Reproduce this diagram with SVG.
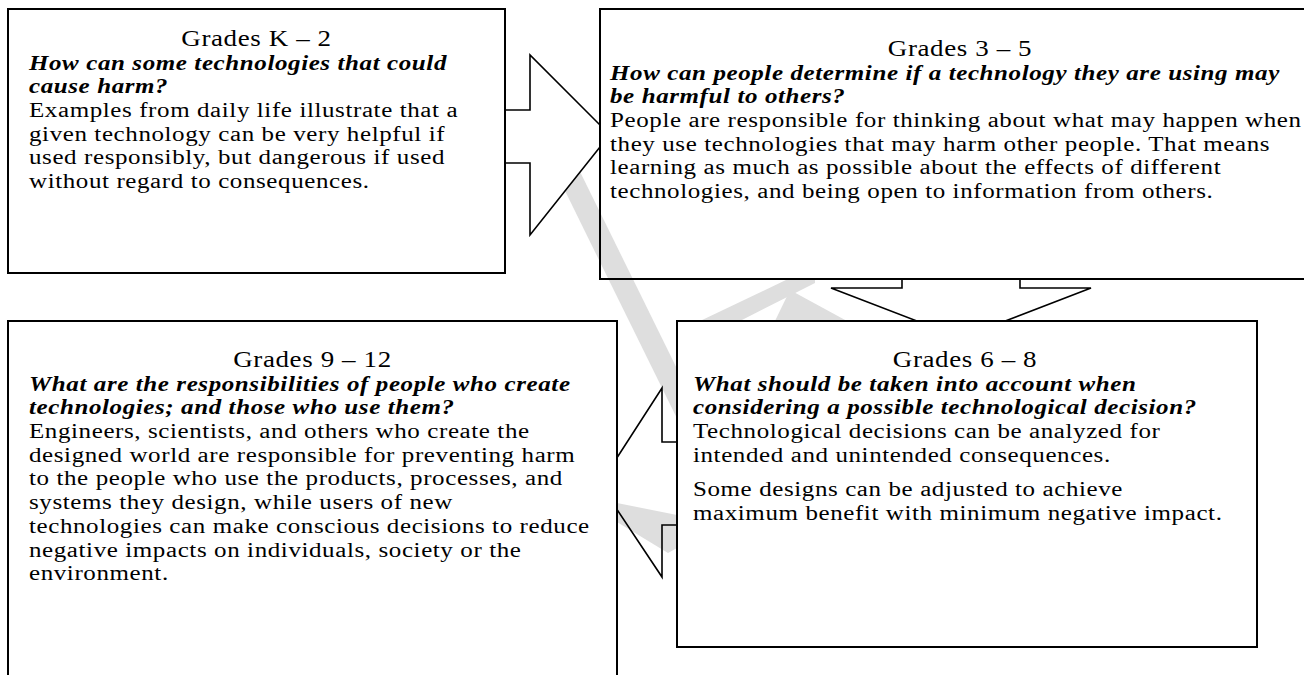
<svg xmlns="http://www.w3.org/2000/svg" width="1304" height="675" viewBox="0 0 1304 675">
<style>
.box{fill:#fff;stroke:#000;stroke-width:2}
.open{fill:none;stroke:#000;stroke-width:2}
.arr{fill:#fff;stroke:#000;stroke-width:1.6;stroke-linejoin:miter}
.arrn{fill:none;stroke:#000;stroke-width:1.6;stroke-linejoin:miter}
.wm{fill:#dedede;stroke:none}
text{font-family:"Liberation Serif","Times New Roman",serif;fill:#000;letter-spacing:0.6px}
.t{font-size:27px;text-anchor:middle}
.q{font-size:25px;font-weight:bold;font-style:italic}
.b{font-size:25px}
</style>
<rect width="1304" height="675" fill="#fff"/>
<g id="watermark">
<line x1="566" y1="168" x2="690" y2="420" stroke="#dedede" stroke-width="22"/>
<polygon class="wm" points="700,321 740,321 815,283 815,279 788,279"/>
<polygon class="wm" points="790,290 847,321 775,321"/>
<polygon class="wm" points="617,503 677,515 677,548 668,553 617,522"/>
</g>
<g id="connectors">
<polygon class="arr" points="490,110 530,110 530,55 600,125 600,147 530,235 530,163 490,163"/>
<polygon class="arr" points="902,279 902,288 831,288 961,338 1091,288 1020,288 1020,279"/>
<polygon class="arrn" points="700,442 662,442 662,388 600,484 662,577 662,525 700,525"/>
</g>
<g id="node-3-5">
<rect class="open" x="600" y="9" width="720" height="270"/>
<g transform="scale(1,0.855)">
<text class="t" x="960" y="65.50">Grades 3 – 5</text>
<text class="q" x="610" y="93.22">How can people determine if a technology they are using may</text>
<text class="q" x="610" y="120.94">be harmful to others?</text>
<text class="b" x="610" y="148.65">People are responsible for thinking about what may happen when</text>
<text class="b" x="610" y="176.37">they use technologies that may harm other people. That means</text>
<text class="b" x="610" y="204.09">learning as much as possible about the effects of different</text>
<text class="b" x="610" y="231.81">technologies, and being open to information from others.</text>
</g>
</g>
<g id="node-k-2">
<rect class="box" x="8" y="9" width="497" height="264"/>
<g transform="scale(1,0.855)">
<text class="t" x="256.5" y="53.80">Grades K – 2</text>
<text class="q" x="29" y="81.52">How can some technologies that could</text>
<text class="q" x="29" y="109.24">cause harm?</text>
<text class="b" x="29" y="136.96">Examples from daily life illustrate that a</text>
<text class="b" x="29" y="164.68">given technology can be very helpful if</text>
<text class="b" x="29" y="192.40">used responsibly, but dangerous if used</text>
<text class="b" x="29" y="220.12">without regard to consequences.</text>
</g>
</g>
<g id="node-9-12">
<rect class="box" x="8" y="321" width="609" height="370"/>
<g transform="scale(1,0.855)">
<text class="t" x="312.5" y="429.24">Grades 9 – 12</text>
<text class="q" x="29" y="456.96">What are the responsibilities of people who create</text>
<text class="q" x="29" y="484.68">technologies; and those who use them?</text>
<text class="b" x="29" y="512.40">Engineers, scientists, and others who create the</text>
<text class="b" x="29" y="540.12">designed world are responsible for preventing harm</text>
<text class="b" x="29" y="567.84">to the people who use the products, processes, and</text>
<text class="b" x="29" y="595.56">systems they design, while users of new</text>
<text class="b" x="29" y="623.27">technologies can make conscious decisions to reduce</text>
<text class="b" x="29" y="650.99">negative impacts on individuals, society or the</text>
<text class="b" x="29" y="678.71">environment.</text>
</g>
</g>
<g id="node-6-8">
<rect class="box" x="677" y="321" width="580" height="326"/>
<g transform="scale(1,0.855)">
<text class="t" x="965" y="429.24">Grades 6 – 8</text>
<text class="q" x="693" y="456.96">What should be taken into account when</text>
<text class="q" x="693" y="484.68">considering a possible technological decision?</text>
<text class="b" x="693" y="512.40">Technological decisions can be analyzed for</text>
<text class="b" x="693" y="540.12">intended and unintended consequences.</text>
<text class="b" x="693" y="580.12">Some designs can be adjusted to achieve</text>
<text class="b" x="693" y="607.84">maximum benefit with minimum negative impact.</text>
</g>
</g>
</svg>
